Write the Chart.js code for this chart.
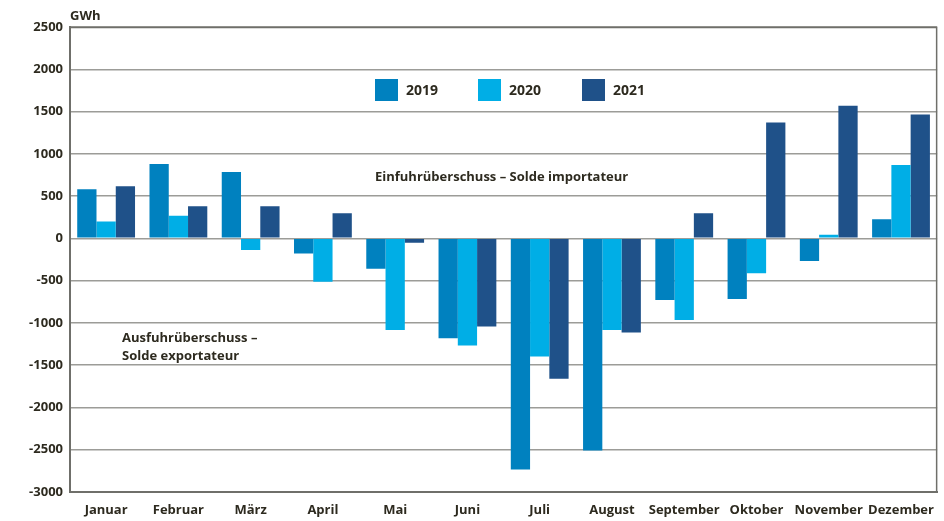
<!DOCTYPE html>
<html>
<head>
<meta charset="utf-8">
<script src="https://cdn.jsdelivr.net/npm/chart.js@4.4.1/dist/chart.umd.min.js"></script>
<style>
html,body{margin:0;padding:0;background:#fff;}
#wrap{width:944px;height:521px;position:relative;}
</style>
</head>
<body>
<div id="wrap"><canvas id="c" width="944" height="521"></canvas></div>
<script>
const months = ["Januar","Februar","März","April","Mai","Juni","Juli","August","September","Oktober","November","Dezember"];
const seriesLabels = ["2019","2020","2021"];
const values2019 = [580, 880, 785, -178, -359, -1180, -2734, -2509, -730, -718, -268, 225];
const values2020 = [198, 268, -138, -512, -1085, -1266, -1396, -1085, -967, -414, 44, 867];
const values2021 = [615, 379, 379, 296, -51, -1041, -1660, -1112, 296, 1369, 1570, 1464];
const colors = ["#0081bf", "#00aee6", "#1f5189"];
const yMin = -3000, yMax = 2500, yStep = 500;
const unitLabel = "GWh";
const noteImport = "Einfuhrüberschuss – Solde importateur";
const noteExport = ["Ausfuhrüberschuss –", "Solde exportateur"];

const FONT = "'Open Sans', 'Noto Sans', sans-serif";
const TXT = "#2d2a1f";

const extras = {
  id: 'extras',
  afterDraw(chart) {
    const ctx = chart.ctx, a = chart.chartArea;
    ctx.save();
    ctx.strokeStyle = "#6f6f6a";
    ctx.lineWidth = 1.5;
    ctx.beginPath();
    ctx.moveTo(a.left, a.top + 0.5);
    ctx.lineTo(a.right - 0.5, a.top + 0.5);
    ctx.lineTo(a.right - 0.5, a.bottom);
    ctx.stroke();
    ctx.fillStyle = TXT;
    ctx.font = "bold 13px " + FONT;
    ctx.textBaseline = "middle";
    ctx.textAlign = "left";
    ctx.fillText(unitLabel, 70, 16);
    const legX = [375, 478, 582];
    chart.data.datasets.forEach((ds, i) => {
      ctx.fillStyle = ds.backgroundColor;
      ctx.fillRect(legX[i], 79, 23, 22);
      ctx.fillStyle = TXT;
      ctx.font = "bold 14px " + FONT;
      ctx.fillText(ds.label, legX[i] + 31, 91);
    });
    ctx.font = "bold 13px " + FONT;
    ctx.fillText(noteImport, 375, 177);
    ctx.fillText(noteExport[0], 122, 338);
    ctx.fillText(noteExport[1], 122, 356);
    ctx.restore();
  }
};

new Chart(document.getElementById('c'), {
  type: 'bar',
  data: {
    labels: months,
    datasets: [
      {label: seriesLabels[0], data: values2019, backgroundColor: colors[0]},
      {label: seriesLabels[1], data: values2020, backgroundColor: colors[1]},
      {label: seriesLabels[2], data: values2021, backgroundColor: colors[2]}
    ]
  },
  options: {
    responsive: false,
    animation: false,
    layout: {padding: {top: 27, right: 1, left: 0, bottom: 0}},
    datasets: {bar: {categoryPercentage: 0.8, barPercentage: 1.0, borderWidth: 0}},
    plugins: {legend: {display: false}, tooltip: {enabled: false}},
    scales: {
      x: {
        grid: {display: false, drawTicks: false},
        border: {display: true, color: "#6f6f6a", width: 2},
        ticks: {color: TXT, font: {family: FONT, size: 13, weight: 'bold'}, padding: 10, maxRotation: 0, autoSkip: false},
        afterFit(s) { s.height = 29; }
      },
      y: {
        min: yMin, max: yMax,
        grid: {color: "#9c9c98", lineWidth: 1.5, drawTicks: false},
        border: {display: true, color: "#6f6f6a", width: 2},
        ticks: {stepSize: yStep, color: TXT, font: {family: FONT, size: 13, weight: 'bold'}, padding: 7,
                callback: (v) => String(v)},
        afterFit(s) { s.width = 70; }
      }
    }
  },
  plugins: [extras]
});
</script>
</body>
</html>
